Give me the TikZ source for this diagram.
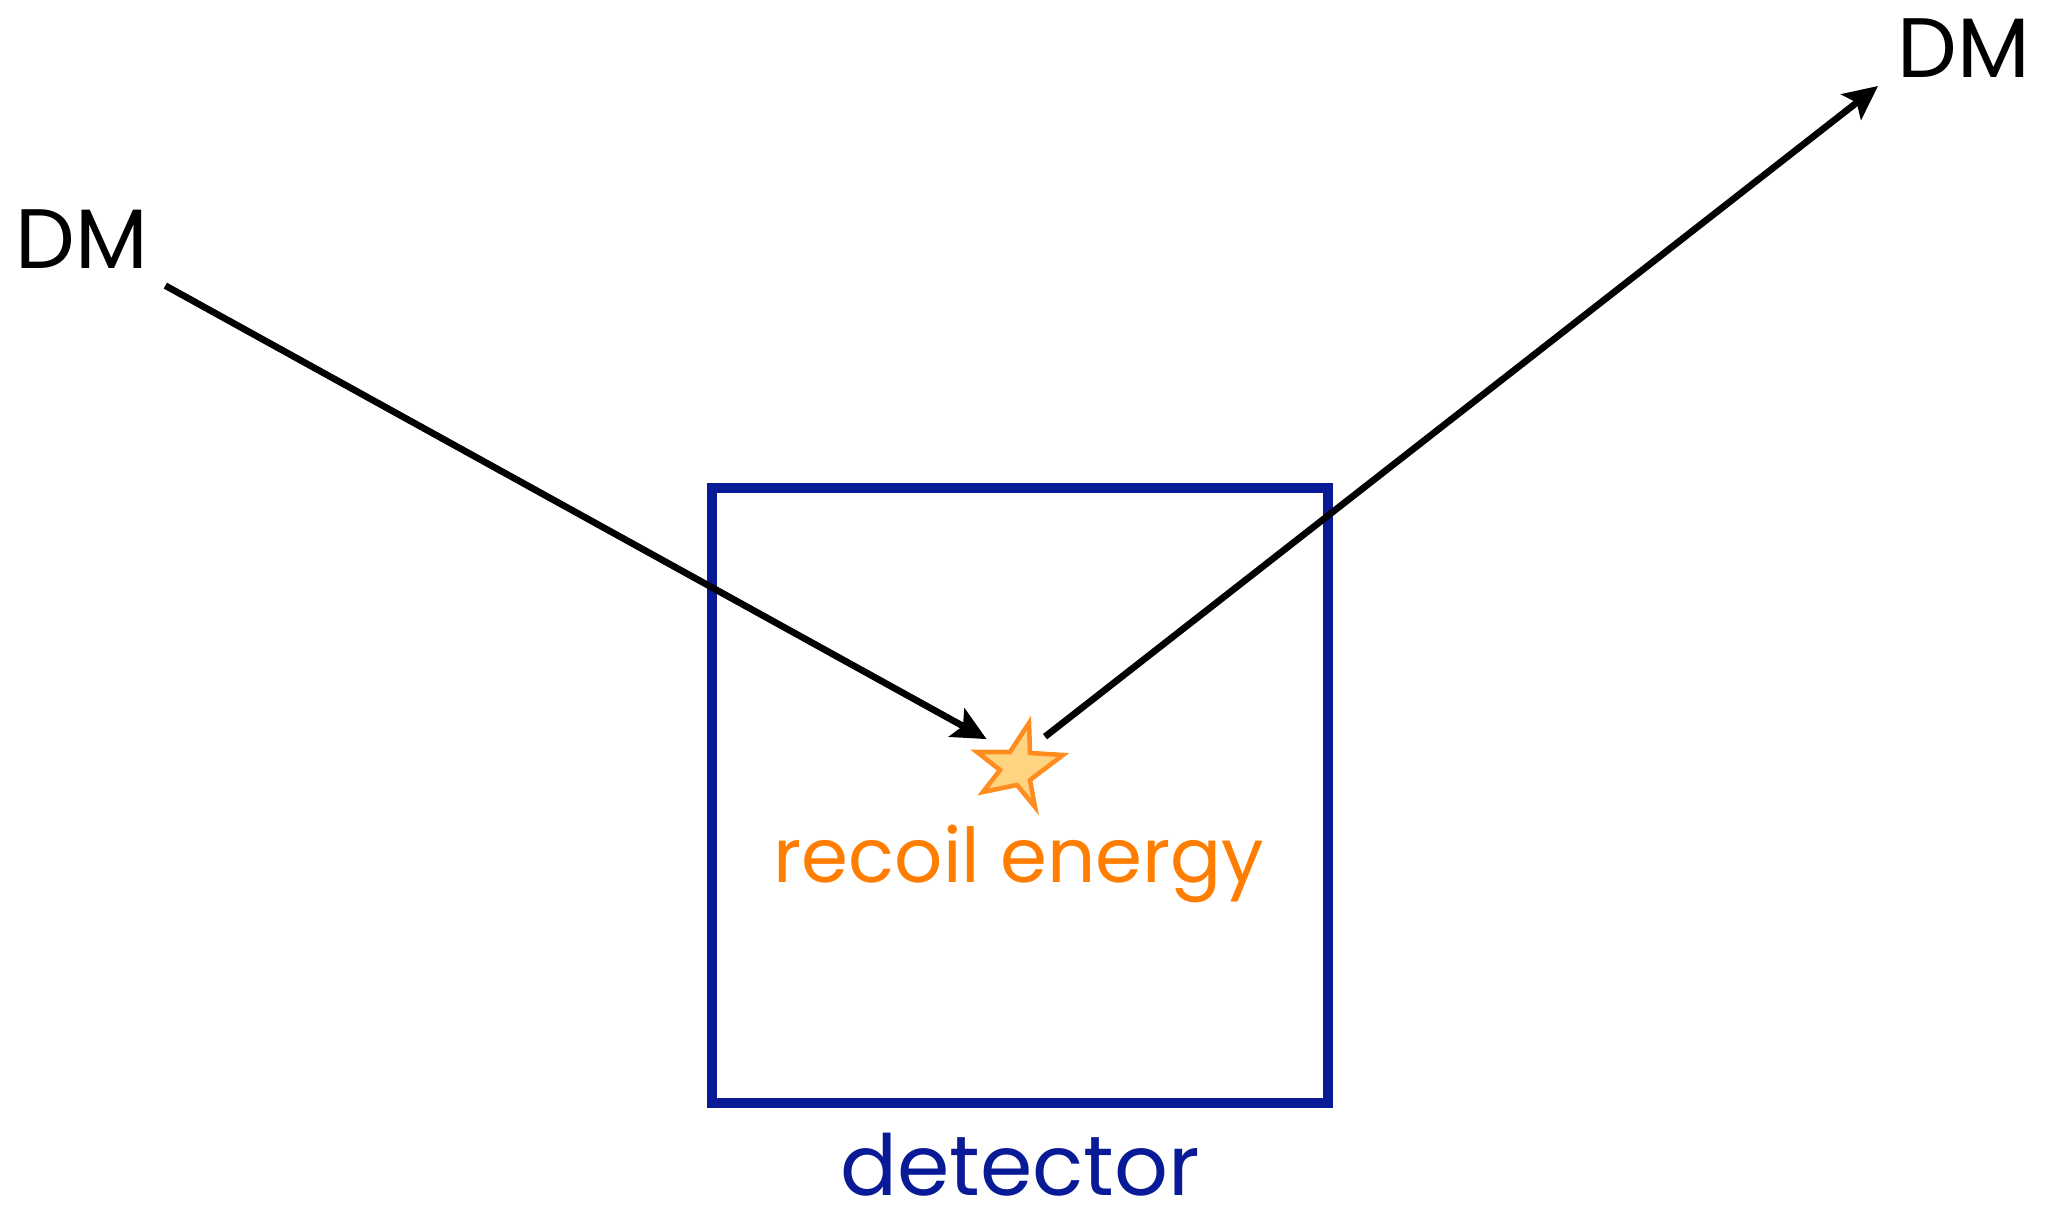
\documentclass[tikz,border=0pt]{standalone}
\usepackage{fontspec}
\setmainfont{Poppins}
\usepackage{tikz}
\usetikzlibrary{arrows.meta, calc}
\definecolor{detblue}{RGB}{8,26,150}
\definecolor{recoilorange}{RGB}{255,125,0}
\definecolor{starfill}{RGB}{255,212,128}
\definecolor{starline}{RGB}{255,140,30}

\begin{document}
\begin{tikzpicture}[
    dmlabel/.style={inner sep=0pt, anchor=base, font=\fontsize{24}{28}\selectfont},
    dmarrow/.style={line width=1.9pt, -{Stealth[length=0.34cm, width=0.32cm, inset=0.07cm]}}
  ]
  \useasboundingbox (0,0) rectangle (20.45,12.07);

  % Detector box
  \draw[detblue, line width=2.9pt] (7.12,1.04) rectangle (13.28,7.19);
  \node[anchor=base, inner sep=0pt, text=detblue, font=\fontsize{24}{28}\selectfont] (det) at (10.20,0.12) {detector};

  % Recoil point and star
  \coordinate (hit) at (10.19,4.50);
  \draw[starline, fill=starfill, line width=1.3pt, line join=miter]
    ($(hit)+(0.10,0.34)$) -- ($(hit)+(0.11,0.04)$) -- ($(hit)+(0.44,0.02)$) --
    ($(hit)+(0.11,-0.23)$) -- ($(hit)+(0.16,-0.50)$) -- ($(hit)+(-0.02,-0.28)$) --
    ($(hit)+(-0.36,-0.35)$) -- ($(hit)+(-0.19,-0.13)$) -- ($(hit)+(-0.42,0.05)$) --
    ($(hit)+(-0.09,0.05)$) -- cycle;
  \node[anchor=base, text=recoilorange, font=\fontsize{21.5}{25}\selectfont] (recoil) at (10.19,3.24) {recoil energy};

  % Incoming and outgoing DM
  \node[dmlabel] (dmin) at (0.82,9.38) {DM};
  \node[dmlabel] (dmout) at (19.64,11.29) {DM};
  \coordinate (dmexit) at (18.78,11.21);
  \draw[dmarrow, shorten <=0.33cm, shorten >=0.37cm] (dmin) -- (hit);
  \draw[dmarrow, shorten <=0.33cm] (hit) -- (dmexit);
\end{tikzpicture}
\end{document}
